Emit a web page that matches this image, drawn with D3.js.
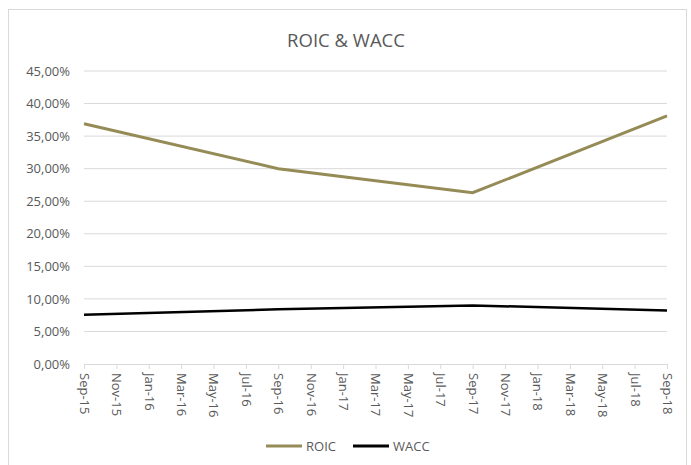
<!DOCTYPE html>
<html>
<head>
<meta charset="utf-8">
<script src="https://cdn.jsdelivr.net/npm/d3@7"></script>
<style>
  body { margin: 0; background: #fff; }
  svg text { font-family: "Open Sans", sans-serif; fill: #595959; }
</style>
</head>
<body>
<svg id="chart" width="691" height="465"></svg>
<script>
// chart data
const months = ['Sep-15', 'Nov-15', 'Jan-16', 'Mar-16', 'May-16', 'Jul-16', 'Sep-16', 'Nov-16', 'Jan-17',
    'Mar-17', 'May-17', 'Jul-17', 'Sep-17', 'Nov-17', 'Jan-18', 'Mar-18', 'May-18', 'Jul-18', 'Sep-18'];
const pointDates = ['Sep-15', 'Sep-16', 'Sep-17', 'Sep-18'];
const roic = [0.369, 0.300, 0.263, 0.381];
const wacc = [0.0755, 0.084, 0.090, 0.082];
const yTicks = [0, 0.05, 0.10, 0.15, 0.20, 0.25, 0.30, 0.35, 0.40, 0.45];

const svg = d3.select('#chart');
const margin = { top: 71, right: 24, bottom: 101, left: 84 };
const width = 691 - margin.left - margin.right;
const height = 465 - margin.top - margin.bottom;

// chart border
svg.append('rect')
    .attr('x', 8.5).attr('y', 9.5)
    .attr('width', 678).attr('height', 470)
    .attr('fill', 'none')
    .attr('stroke', '#d9d9d9');

svg.append('text')
    .attr('x', 346)
    .attr('y', 47)
    .attr('text-anchor', 'middle')
    .style('font-size', '18.5px')
    .text('ROIC & WACC');

const g = svg.append('g').attr('transform', `translate(${margin.left},${margin.top})`);

const x = d3.scalePoint().domain(months).range([0, width]);
const y = d3.scaleLinear().domain([0, 0.45]).range([height, 0]);

const fmt = (v) => (v * 100).toFixed(2).replace('.', ',') + '%';

// gridlines
g.selectAll('.grid')
    .data(yTicks.filter((d) => d > 0))
    .enter()
    .append('line')
    .attr('x1', 0).attr('x2', width)
    .attr('y1', (d) => y(d)).attr('y2', (d) => y(d))
    .attr('stroke', '#d9d9d9');

// y axis
const yAxis = g.append('g')
    .call(d3.axisLeft(y).tickValues(yTicks).tickFormat(fmt).tickSize(0).tickPadding(14));
yAxis.select('.domain').remove();
yAxis.selectAll('text').style('font-size', '13px').attr('fill', '#595959');

// x axis
const xAxis = g.append('g')
    .attr('transform', `translate(0,${height})`)
    .call(d3.axisBottom(x).tickSize(5).tickSizeOuter(0));
xAxis.select('.domain').attr('stroke', '#d9d9d9');
xAxis.selectAll('.tick line').attr('stroke', '#d9d9d9');
xAxis.selectAll('text')
    .style('font-size', '13px')
    .attr('fill', '#595959')
    .attr('transform', 'rotate(90)')
    .attr('x', 9)
    .attr('y', 0)
    .attr('dy', '0.35em')
    .style('text-anchor', 'start');

const line = d3.line()
    .x((d, i) => x(pointDates[i]))
    .y((d) => y(d));

g.append('path')
    .datum(wacc)
    .attr('d', line)
    .attr('fill', 'none')
    .attr('stroke', '#000')
    .attr('stroke-width', 2.5);

g.append('path')
    .datum(roic)
    .attr('d', line)
    .attr('fill', 'none')
    .attr('stroke', '#958b56')
    .attr('stroke-width', 3);

// legend
const legend = [
    { name: 'ROIC', color: '#958b56', x: 266 },
    { name: 'WACC', color: '#000', x: 353 },
];
legend.forEach((l) => {
    svg.append('line')
        .attr('x1', l.x).attr('x2', l.x + 36)
        .attr('y1', 446).attr('y2', 446)
        .attr('stroke', l.color)
        .attr('stroke-width', 3);
    svg.append('text')
        .attr('x', l.x + 40)
        .attr('y', 446)
        .attr('dy', '0.35em')
        .style('font-size', '13px')
        .text(l.name);
});
</script>
</body>
</html>
